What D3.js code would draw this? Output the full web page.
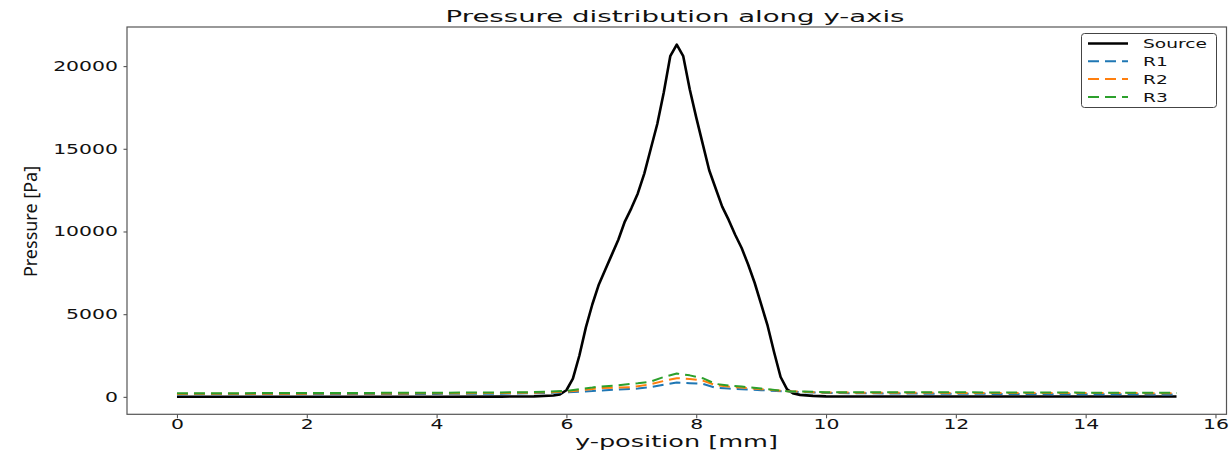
<!DOCTYPE html>
<html>
<head>
<meta charset="utf-8">
<script src="https://cdn.jsdelivr.net/npm/d3@7"></script>
<style>
  body { margin: 0; background: #fff; }
  svg { display: block; }
  text { font-family: "DejaVu Sans", sans-serif; fill: #111; }
</style>
</head>
<body>
<div id="chart"></div>
<script>
// Source pressure along y (mm -> Pa)
const sourceX = [0, 1, 2, 3, 4, 5, 5.5, 5.8, 5.9, 6.0, 6.1, 6.2, 6.3, 6.4, 6.5, 6.6, 6.7, 6.8, 6.9, 7.0,
  7.1, 7.2, 7.3, 7.4, 7.5, 7.6, 7.7, 7.8, 7.9, 8.0, 8.1, 8.2, 8.3, 8.4, 8.5, 8.6, 8.7, 8.8, 8.9, 9.0,
  9.1, 9.2, 9.3, 9.4, 9.5, 9.6, 9.8, 10.0, 10.5, 11, 12, 13, 14, 15, 15.4];
const sourceP = [10, 10, 10, 10, 10, 15, 30, 80, 150, 400, 1100, 2500, 4200, 5600, 6800, 7700, 8600, 9500, 10600, 11400,
  12300, 13500, 15000, 16500, 18400, 20600, 21300, 20600, 18600, 16900, 15300, 13700, 12600, 11500, 10700, 9800, 9000, 8000, 6900, 5600,
  4300, 2700, 1200, 450, 200, 120, 60, 30, 20, 20, 20, 20, 20, 20, 20];

// receivers share one x grid
const refX = [0, 1, 2, 3, 4, 5, 5.5, 6.0, 6.4, 6.5, 6.8, 7.0, 7.1, 7.3, 7.5, 7.7, 7.9, 8.1, 8.3, 8.5, 8.7, 9.0, 9.4,
  10, 11, 12, 13, 14, 15, 15.4];
const r1P = [150, 155, 160, 170, 180, 195, 215, 270, 350, 380, 440, 480, 500, 585, 740, 865, 830, 785, 545, 500, 465, 405, 320,
  240, 200, 190, 170, 160, 150, 140];
const r2P = [180, 185, 195, 205, 215, 235, 255, 310, 470, 525, 560, 585, 640, 765, 960, 1130, 1080, 985, 705, 620, 560, 465, 340,
  260, 250, 240, 235, 230, 225, 220];
const r3P = [220, 225, 230, 240, 250, 270, 290, 360, 560, 620, 700, 785, 820, 925, 1200, 1410, 1300, 1130, 785, 680, 620, 500, 345,
  285, 280, 275, 265, 255, 245, 240];

const seriesNames = ['Source', 'R1', 'R2', 'R3'];
const seriesColors = ['#000000', '#1f77b4', '#ff7f0e', '#2ca02c'];
const xTicks = [0, 2, 4, 6, 8, 10, 12, 14, 16];
const yTicks = [0, 5000, 10000, 15000, 20000];

const W = 1230, H = 461;
const plot = { left: 127, top: 27, right: 1226.5, bottom: 414.3 };

const svg = d3.select('#chart').append('svg')
  .attr('width', W)
  .attr('height', H);

// matplotlib-style 5% margins
const xExt = d3.extent(sourceX);
const xPad = (xExt[1] - xExt[0]) * 0.05;
const allP = sourceP.concat(r1P, r2P, r3P);
const yExt = d3.extent(allP);
const yPad = (yExt[1] - yExt[0]) * 0.05;

const x = d3.scaleLinear()
  .domain([xExt[0] - xPad, xExt[1] + xPad])
  .range([plot.left, plot.right]);

const y = d3.scaleLinear()
  .domain([yExt[0] - yPad, yExt[1] + yPad])
  .range([plot.bottom, plot.top]);

// text in the reference is stretched sideways
function stretch(sel, sx) {
  sel.each(function () {
    const w = this.getComputedTextLength();
    d3.select(this)
      .attr('textLength', w * sx)
      .attr('lengthAdjust', 'spacingAndGlyphs');
  });
}

// Axes
const gx = svg.append('g')
  .attr('transform', `translate(0,${plot.bottom})`)
  .call(d3.axisBottom(x).tickValues(xTicks).tickFormat(d3.format('d')).tickSize(4).tickPadding(0.8));

const gy = svg.append('g')
  .attr('transform', `translate(${plot.left},0)`)
  .call(d3.axisLeft(y).tickValues(yTicks).tickFormat(d3.format('d')).tickSize(3.5).tickPadding(5.5));

[gx, gy].forEach(g => {
  g.select('.domain').remove();
  g.selectAll('.tick line').attr('stroke', '#555').attr('stroke-width', 1.1);
  g.selectAll('.tick text')
    .attr('font-family', '"DejaVu Sans", sans-serif')
    .attr('font-size', 13.7)
    .attr('fill', '#111');
  stretch(g.selectAll('.tick text'), 1.49);
});

// Lines
const line = d3.line()
  .x(d => x(d[0]))
  .y(d => y(d[1]));

const series = [
  d3.zip(sourceX, sourceP),
  d3.zip(refX, r1P),
  d3.zip(refX, r2P),
  d3.zip(refX, r3P)
];

series.forEach((pts, i) => {
  svg.append('path')
    .datum(pts)
    .attr('fill', 'none')
    .attr('stroke', seriesColors[i])
    .attr('stroke-width', i === 0 ? 2.6 : 2)
    .attr('stroke-dasharray', i === 0 ? null : '11,6')
    .attr('stroke-linejoin', 'round')
    .attr('d', line);
});

// Frame
svg.append('rect')
  .attr('x', plot.left)
  .attr('y', plot.top)
  .attr('width', plot.right - plot.left)
  .attr('height', plot.bottom - plot.top)
  .attr('fill', 'none')
  .attr('stroke', '#555')
  .attr('stroke-width', 1.2);

// Title and labels
svg.append('text')
  .attr('x', 675)
  .attr('y', 22)
  .attr('text-anchor', 'middle')
  .attr('font-size', 15.2)
  .attr('textLength', 459)
  .attr('lengthAdjust', 'spacingAndGlyphs')
  .text('Pressure distribution along y-axis');

svg.append('text')
  .attr('x', 676.5)
  .attr('y', 447)
  .attr('text-anchor', 'middle')
  .attr('font-size', 15)
  .attr('textLength', 203)
  .attr('lengthAdjust', 'spacingAndGlyphs')
  .text('y-position [mm]');

svg.append('text')
  .attr('transform', `translate(37,221.5) rotate(-90)`)
  .attr('text-anchor', 'middle')
  .style('font-family', '"Noto Sans", sans-serif')
  .attr('font-size', 18)
  .text('Pressure [Pa]');

// Legend
const legend = svg.append('g');
legend.append('rect')
  .attr('x', 1081.5)
  .attr('y', 33.5)
  .attr('width', 135)
  .attr('height', 74)
  .attr('rx', 3)
  .attr('fill', '#fff')
  .attr('fill-opacity', 0.8)
  .attr('stroke', '#444')
  .attr('stroke-width', 1);

seriesNames.forEach((name, i) => {
  const ry = 43.5 + i * 17.8;
  legend.append('line')
    .attr('x1', 1088)
    .attr('x2', 1128)
    .attr('y1', ry)
    .attr('y2', ry)
    .attr('stroke', seriesColors[i])
    .attr('stroke-width', i === 0 ? 2.6 : 2)
    .attr('stroke-dasharray', i === 0 ? null : '11,6');
  legend.append('text')
    .attr('x', 1143)
    .attr('y', ry + 4.8)
    .attr('font-size', 12.4)
    .text(name);
});
stretch(legend.selectAll('text'), 1.5);
</script>
</body>
</html>
